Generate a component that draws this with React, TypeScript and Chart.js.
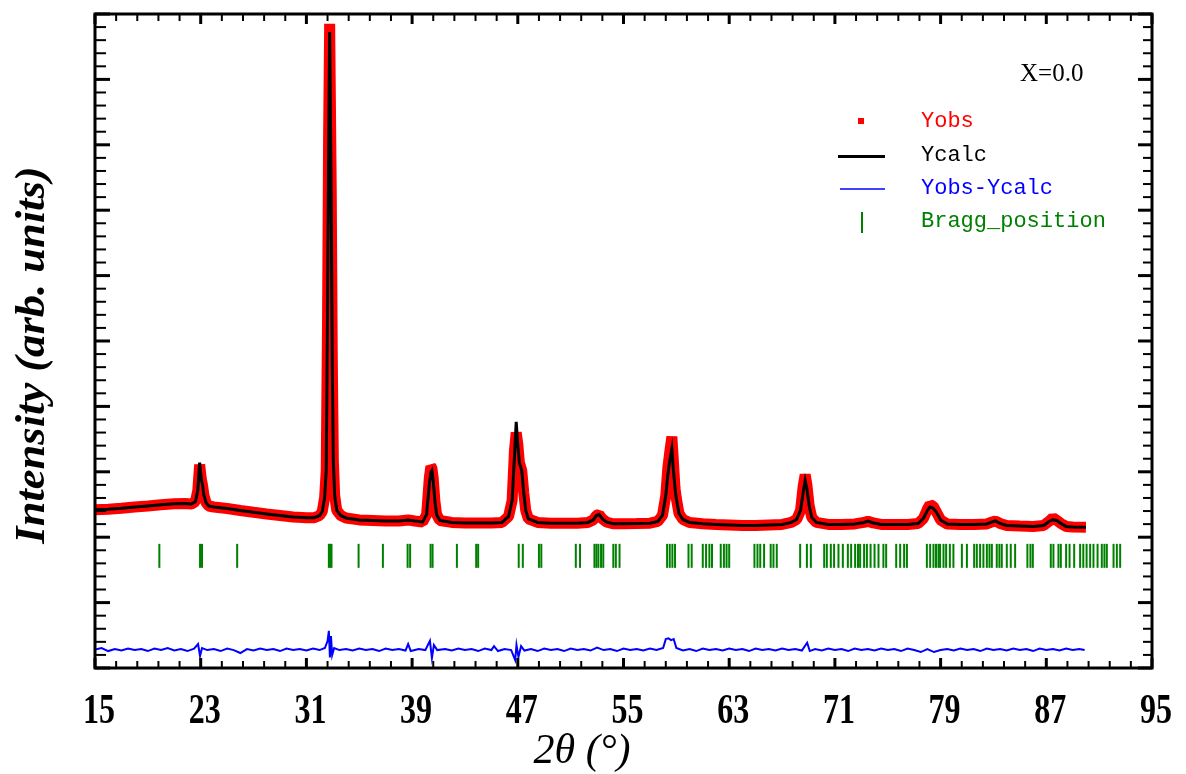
import React, { useEffect, useRef } from 'react';
import { Chart, registerables } from 'chart.js';

Chart.register(...registerables);

// ---- data (2θ in degrees, intensity in arbitrary units) ----
const twoTheta = [
  15.0, 16.0, 17.0, 18.0, 19.0, 20.0, 21.0, 21.8, 22.3, 22.6,
  22.78, 22.92, 23.04, 23.14, 23.25, 23.4, 23.6, 24.0, 25.0, 26.0,
  27.0, 28.0, 29.0, 30.0, 31.0, 31.6, 32.0, 32.2, 32.38, 32.5,
  32.6, 32.68, 32.76, 32.88, 32.96, 33.04, 33.14, 33.3, 33.6, 34.0,
  35.0, 36.0, 37.0, 38.0, 38.7, 39.2, 39.8, 40.1, 40.3, 40.42,
  40.5, 40.6, 40.72, 40.85, 41.1, 42.0, 43.0, 44.0, 45.0, 45.8,
  46.3, 46.57, 46.75, 46.88, 47.0, 47.12, 47.3, 47.45, 47.6, 47.8,
  48.5, 49.5, 50.5, 51.5, 52.3, 52.7, 52.95, 53.15, 53.4, 53.7,
  54.2, 55.0, 56.0, 57.0, 57.6, 57.95, 58.2, 58.35, 58.5, 58.66,
  58.78, 58.9, 59.0, 59.2, 59.5, 60.0, 61.0, 62.0, 63.0, 64.0,
  65.0, 66.0, 67.0, 67.7, 68.1, 68.4, 68.6, 68.75, 68.88, 69.05,
  69.25, 69.6, 70.5, 71.5, 72.5, 73.2, 73.5, 73.9, 74.5, 75.5,
  76.5, 77.3, 77.7, 78.0, 78.2, 78.45, 78.7, 79.0, 79.5, 80.5,
  81.5, 82.5, 82.9, 83.15, 83.5, 84.0, 85.0, 86.0, 86.8, 87.2,
  87.5, 87.8, 88.1, 88.5, 89.0, 90.0,
];

const yCalc = [
  2419, 2428, 2442, 2462, 2477, 2495, 2512, 2515, 2508, 2546,
  2713, 3140, 2896, 2790, 2637, 2531, 2477, 2462, 2439, 2409,
  2381, 2355, 2332, 2309, 2299, 2299, 2332, 2393, 2607, 3018,
  5457, 7896, 9726, 7134, 4588, 3171, 2637, 2409, 2332, 2294,
  2264, 2256, 2248, 2248, 2264, 2248, 2233, 2348, 2805, 2988,
  3018, 2866, 2561, 2348, 2256, 2226, 2218, 2218, 2218, 2226,
  2317, 2561, 3247, 3765, 3399, 3140, 3018, 2683, 2409, 2279,
  2226, 2215, 2215, 2215, 2226, 2264, 2332, 2348, 2279, 2233,
  2206, 2206, 2210, 2215, 2241, 2332, 2637, 2942, 3171, 3354,
  3018, 2744, 2591, 2363, 2271, 2226, 2206, 2195, 2188, 2180,
  2180, 2188, 2195, 2226, 2271, 2409, 2683, 2866, 2744, 2485,
  2302, 2226, 2195, 2195, 2203, 2226, 2245, 2218, 2195, 2195,
  2195, 2210, 2287, 2409, 2462, 2439, 2378, 2264, 2203, 2195,
  2195, 2203, 2233, 2248, 2210, 2180, 2172, 2165, 2180, 2241,
  2267, 2256, 2210, 2165, 2157, 2154,
];

const yObs = [
  2419, 2428, 2442, 2462, 2477, 2495, 2512, 2515, 2508, 2546,
  2713, 3110, 2896, 2790, 2637, 2531, 2477, 2462, 2439, 2409,
  2381, 2355, 2332, 2309, 2299, 2299, 2332, 2393, 2607, 3018,
  5300, 8100, 9850, 7300, 4700, 3171, 2637, 2409, 2332, 2294,
  2264, 2256, 2248, 2248, 2264, 2248, 2233, 2348, 2900, 3080,
  3060, 2900, 2561, 2348, 2256, 2226, 2218, 2218, 2218, 2226,
  2317, 2561, 3330, 3600, 3420, 3140, 3018, 2683, 2409, 2279,
  2226, 2215, 2215, 2215, 2226, 2264, 2332, 2348, 2279, 2233,
  2206, 2206, 2210, 2215, 2241, 2332, 2637, 3050, 3300, 3537,
  3150, 2744, 2591, 2363, 2271, 2226, 2206, 2195, 2188, 2180,
  2180, 2188, 2195, 2226, 2271, 2409, 2780, 2957, 2800, 2485,
  2302, 2226, 2195, 2195, 2203, 2226, 2245, 2218, 2195, 2195,
  2195, 2210, 2287, 2430, 2500, 2470, 2378, 2264, 2203, 2195,
  2195, 2203, 2233, 2248, 2210, 2180, 2172, 2165, 2180, 2241,
  2300, 2256, 2210, 2165, 2157, 2154,
];

const diffTheta = [
  15.0, 15.5, 16.0, 16.5, 17.0, 17.5, 18.0, 18.5, 19.0, 19.5,
  20.0, 20.5, 21.0, 21.5, 22.0, 22.5, 22.8, 22.95, 23.1, 23.5,
  24.0, 24.5, 25.0, 25.5, 26.0, 26.5, 27.0, 27.5, 28.0, 28.5,
  29.0, 29.5, 30.0, 30.5, 31.0, 31.5, 32.0, 32.4, 32.6, 32.7,
  32.78, 32.86, 32.95, 33.1, 33.5, 34.0, 34.5, 35.0, 35.5, 36.0,
  36.5, 37.0, 37.5, 38.0, 38.5, 38.7, 38.9, 39.5, 40.0, 40.35,
  40.5, 40.65, 40.9, 41.5, 42.0, 42.5, 43.0, 43.5, 44.0, 44.5,
  45.0, 45.2, 45.5, 46.0, 46.5, 46.8, 46.9, 47.05, 47.25, 47.5,
  48.0, 48.5, 49.0, 49.5, 50.0, 50.5, 51.0, 51.5, 52.0, 52.5,
  53.0, 53.5, 54.0, 54.5, 55.0, 55.5, 56.0, 56.5, 57.0, 57.5,
  58.0, 58.2, 58.4, 58.6, 58.8, 59.0, 59.5, 60.0, 60.5, 61.0,
  61.5, 62.0, 62.5, 63.0, 63.5, 64.0, 64.5, 65.0, 65.5, 66.0,
  66.5, 67.0, 67.5, 68.0, 68.5, 68.9, 69.1, 69.5, 70.0, 70.5,
  71.0, 71.5, 72.0, 72.5, 73.0, 73.5, 74.0, 74.5, 75.0, 75.5,
  76.0, 76.5, 77.0, 77.5, 78.0, 78.5, 79.0, 79.5, 80.0, 80.5,
  81.0, 81.5, 82.0, 82.5, 83.0, 83.5, 84.0, 84.5, 85.0, 85.5,
  86.0, 86.5, 87.0, 87.5, 88.0, 88.5, 89.0, 89.5, 89.9,
];

const yDiff = [
  282, 305, 259, 290, 267, 297, 274, 290, 259, 297,
  274, 305, 267, 290, 259, 297, 366, 183, 305, 274,
  290, 259, 297, 274, 229, 290, 267, 297, 274, 290,
  259, 297, 274, 290, 267, 297, 274, 305, 412, 569,
  163, 488, 198, 305, 274, 290, 267, 297, 274, 290,
  259, 297, 274, 290, 267, 366, 259, 290, 274, 416,
  152, 351, 274, 290, 267, 297, 274, 290, 259, 297,
  274, 335, 259, 290, 274, 122, 351, 168, 335, 267,
  290, 259, 297, 274, 290, 259, 297, 274, 290, 267,
  313, 274, 290, 259, 297, 274, 290, 267, 297, 274,
  305, 442, 453, 427, 442, 305, 267, 290, 259, 297,
  274, 290, 267, 297, 274, 290, 259, 297, 274, 290,
  267, 297, 274, 290, 267, 386, 259, 290, 267, 297,
  274, 290, 259, 297, 274, 290, 267, 297, 274, 290,
  259, 297, 274, 244, 290, 244, 274, 290, 267, 297,
  274, 290, 259, 297, 274, 290, 267, 297, 274, 290,
  259, 297, 274, 290, 267, 297, 274, 290, 274,
];

const braggPositions = [
  19.87, 22.95, 23.1, 25.76, 32.7, 32.8, 32.9, 34.95, 36.79, 38.66,
  38.85, 40.4, 40.55, 42.39, 43.85, 44.0, 47.07, 47.38, 48.6, 48.78,
  51.39, 51.71, 52.8, 52.95, 53.1, 53.3, 53.47, 54.23, 54.42, 54.7,
  58.3, 58.5, 58.7, 58.9, 59.92, 60.16, 61.0, 61.25, 61.5, 61.7,
  62.36, 62.6, 62.8, 63.0, 64.91, 65.14, 65.35, 65.64, 66.14, 66.35,
  66.6, 68.37, 68.88, 69.18, 70.19, 70.39, 70.69, 70.94, 71.27, 71.6,
  71.98, 72.23, 72.53, 72.75, 72.91, 73.21, 73.42, 73.7, 74.0, 74.3,
  74.67, 74.88, 75.64, 75.94, 76.24, 76.45, 77.96, 78.21, 78.46, 78.65,
  78.84, 78.96, 79.22, 79.42, 79.7, 79.97, 80.61, 80.99, 81.54, 81.74,
  81.99, 82.24, 82.5, 82.7, 82.88, 83.25, 83.45, 83.63, 84.01, 84.31,
  84.64, 85.57, 85.8, 85.98, 87.34, 87.54, 87.92, 88.1, 88.5, 88.76,
  89.11, 89.56, 89.8, 90.05, 90.32, 90.57, 90.88, 91.2, 91.4, 91.58,
  92.09, 92.34, 92.59,
];
const braggLevel = 1715;

const xTickLabels = [15, 23, 31, 39, 47, 55, 63, 71, 79, 87, 95];
const xMinorPerMajor = 5;
const yMajorValues = [0, 1000, 2000, 3000, 4000, 5000, 6000, 7000, 8000, 9000, 10000];
const yMinorPerMajor = 5;

const legendLabels = ['Yobs', 'Ycalc', 'Yobs-Ycalc', 'Bragg_position'];
const legendColors = ['#ff0000', '#000000', '#0000ff', '#008000'];
const annotationText = 'X=0.0';
const xTitle = '2θ (°)';
const yTitle = 'Intensity (arb. units)';

const SERIF = '"Liberation Serif", "Times New Roman", serif';
const MONO = '"Liberation Mono", "Courier New", monospace';

const framePlugin = {
  id: 'frameTicks',
  afterDatasetsDraw(chart: any) {
    const { ctx, chartArea: a, scales } = chart;
    const xs = scales.x;
    const ys = scales.y;
    ctx.save();
    ctx.strokeStyle = '#000';
    ctx.lineCap = 'butt';
    const line = (x1: number, y1: number, x2: number, y2: number) => {
      ctx.beginPath();
      ctx.moveTo(x1, y1);
      ctx.lineTo(x2, y2);
      ctx.stroke();
    };
    for (let k = 0; k < xTickLabels.length; k++) {
      const v0 = xTickLabels[k];
      const last = k === xTickLabels.length - 1;
      const steps = last ? 1 : xMinorPerMajor;
      const span = last ? 0 : xTickLabels[k + 1] - v0;
      for (let j = 0; j < steps; j++) {
        const v = v0 + (span * j) / xMinorPerMajor;
        const px = xs.getPixelForValue(v);
        const major = j === 0;
        ctx.lineWidth = major ? 3 : 2;
        const len = major ? 10 : 7;
        line(px, a.bottom, px, a.bottom - len);
        line(px, a.top, px, a.top + len);
      }
    }
    for (let k = 0; k < yMajorValues.length; k++) {
      const v0 = yMajorValues[k];
      const last = k === yMajorValues.length - 1;
      const steps = last ? 1 : yMinorPerMajor;
      const span = last ? 0 : yMajorValues[k + 1] - v0;
      for (let j = 0; j < steps; j++) {
        const v = v0 + (span * j) / yMinorPerMajor;
        const py = ys.getPixelForValue(v);
        const major = j === 0;
        ctx.lineWidth = major ? 3 : 2;
        line(a.left, py, a.left + (major ? 15 : 11), py);
        line(a.right, py, a.right - (major ? 14 : 9), py);
      }
    }
    ctx.lineWidth = 3;
    ctx.strokeRect(a.left, a.top, a.right - a.left, a.bottom - a.top);
    ctx.restore();
  },
  afterDraw(chart: any) {
    const { ctx, scales } = chart;
    const xs = scales.x;
    ctx.save();
    ctx.fillStyle = '#000';
    ctx.font = `bold 32px ${SERIF}`;
    ctx.textAlign = 'center';
    ctx.textBaseline = 'middle';
    for (const lab of xTickLabels) {
      const px = xs.getPixelForValue(lab) + 4;
      ctx.save();
      ctx.translate(px, 712);
      ctx.scale(1, 1.3);
      ctx.fillText(String(lab), 0, 0);
      ctx.restore();
    }
    ctx.save();
    ctx.font = `italic 42px ${SERIF}`;
    ctx.translate(582, 752);
    ctx.fillText(xTitle, 0, 0);
    ctx.restore();
    ctx.save();
    ctx.font = `bold italic 42px ${SERIF}`;
    ctx.translate(33, 355);
    ctx.rotate(-Math.PI / 2);
    ctx.scale(1.06, 1);
    ctx.fillText(yTitle, 0, 0);
    ctx.restore();
    ctx.font = `25px ${SERIF}`;
    ctx.textAlign = 'left';
    ctx.fillText(annotationText, 1020, 74);
    const rows = [121, 155, 188, 221];
    ctx.font = `22px ${MONO}`;
    legendLabels.forEach((lab, i) => {
      ctx.fillStyle = legendColors[i];
      ctx.fillText(lab, 921, rows[i]);
    });
    ctx.fillStyle = '#ff0000';
    ctx.fillRect(858, 118, 6, 6);
    ctx.strokeStyle = '#000';
    ctx.lineWidth = 3;
    ctx.beginPath(); ctx.moveTo(838, 156.5); ctx.lineTo(885, 156.5); ctx.stroke();
    ctx.strokeStyle = '#0000ff';
    ctx.lineWidth = 1.5;
    ctx.beginPath(); ctx.moveTo(840, 189); ctx.lineTo(885, 189); ctx.stroke();
    ctx.strokeStyle = '#008000';
    ctx.lineWidth = 2;
    ctx.beginPath(); ctx.moveTo(862, 212); ctx.lineTo(862, 233); ctx.stroke();
    ctx.restore();
  },
};

export default function App() {
  const canvasRef = useRef<HTMLCanvasElement | null>(null);

  useEffect(() => {
    if (!canvasRef.current) return;
    const calcData = twoTheta.map((x, i) => ({ x, y: yCalc[i] }));
    const obsData = twoTheta.map((x, i) => ({ x, y: yObs[i] }));
    const diffData = diffTheta.map((x, i) => ({ x, y: yDiff[i] }));
    const braggData = braggPositions.map((x) => ({ x, y: braggLevel }));

    const chart = new Chart(canvasRef.current, {
      type: 'scatter',
      data: {
        datasets: [
          {
            type: 'line',
            label: 'Ycalc',
            data: calcData,
            borderColor: '#000000',
            borderWidth: 3,
            pointRadius: 0,
            tension: 0,
            order: 0,
          } as any,
          {
            type: 'line',
            label: 'Yobs',
            data: obsData,
            borderColor: '#ff0000',
            borderWidth: 11,
            borderJoinStyle: 'bevel',
            pointRadius: 0,
            tension: 0,
            order: 1,
          } as any,
          {
            type: 'line',
            label: 'Yobs-Ycalc',
            data: diffData,
            borderColor: '#0000ff',
            borderWidth: 2,
            pointRadius: 0,
            tension: 0,
            order: 2,
          } as any,
          {
            type: 'scatter',
            label: 'Bragg_position',
            data: braggData,
            pointStyle: 'line',
            rotation: 90,
            pointRadius: 12,
            borderColor: '#008000',
            backgroundColor: '#008000',
            borderWidth: 2,
            showLine: false,
            order: 3,
          } as any,
        ],
      },
      options: {
        animation: false,
        responsive: false,
        devicePixelRatio: 1,
        layout: { padding: { left: 95, top: 12, right: 34, bottom: 106 } },
        scales: {
          x: { type: 'linear', min: 15, max: 95, display: false },
          y: { type: 'linear', min: 0, max: 10000, display: false },
        },
        plugins: {
          legend: { display: false },
          tooltip: { enabled: false },
        },
      },
      plugins: [framePlugin],
    });
    return () => chart.destroy();
  }, []);

  return (
    <div style={{ position: 'absolute', left: 0, top: 0, width: 1186, height: 774, background: '#ffffff' }}>
      <canvas ref={canvasRef} width={1186} height={774} style={{ display: 'block' }} />
    </div>
  );
}
